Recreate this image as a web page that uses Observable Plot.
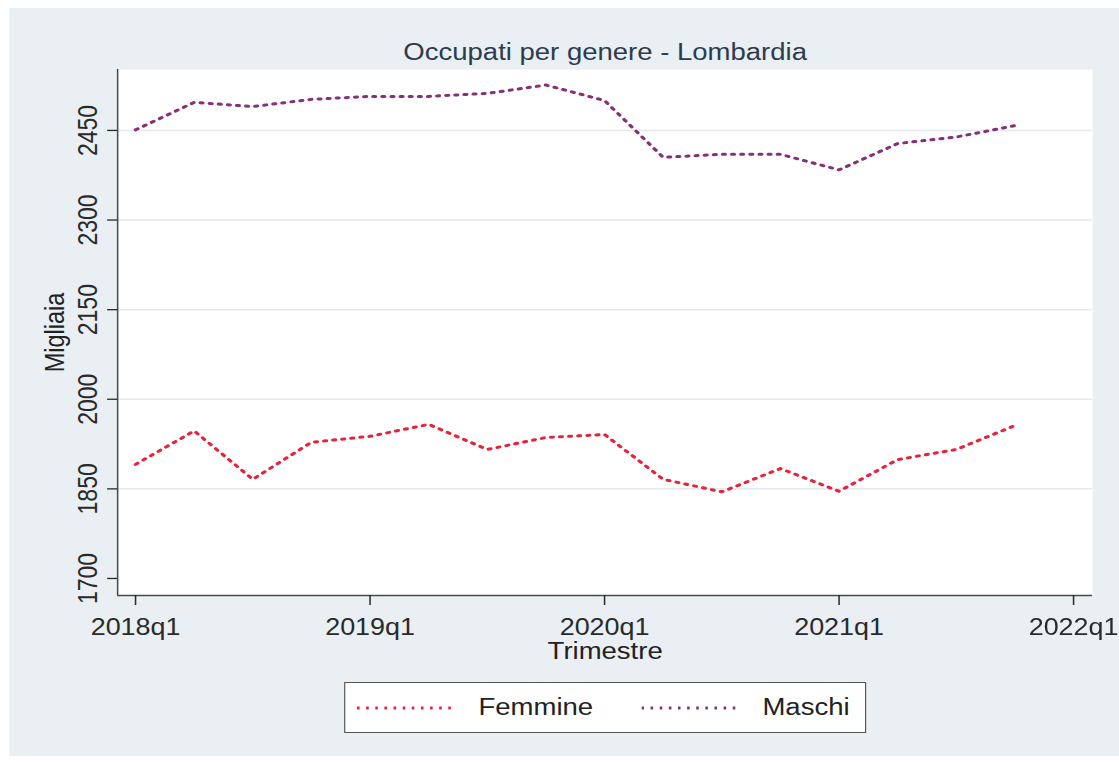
<!DOCTYPE html>
<html>
<head>
<meta charset="utf-8">
<script src="https://cdn.jsdelivr.net/npm/d3@7"></script>
<script src="https://cdn.jsdelivr.net/npm/@observablehq/plot@0.6"></script>
<style>
  html, body { margin: 0; padding: 0; background: #ffffff; }
  #wrap { position: absolute; left: 0; top: 0; width: 956px; height: 762px;
          transform: scaleX(1.1705); transform-origin: 0 0;
          font-family: "Liberation Sans", Arial, Helvetica, sans-serif; }
  #bg { position: absolute; left: 7.7px; top: 8px; width: 948.3px; height: 748px; background: #e9eff2; }
  #chart { position: absolute; left: 0; top: 0; }
  #legend { position: absolute; left: 294px; top: 682px; width: 446px; height: 51px;
            box-sizing: border-box; border: 1.5px solid #555; background: #fff; }
  .li { position: absolute; top: 0; height: 100%; display: flex; align-items: center; }
  .lt { font-size: 23.5px; color: #222; white-space: nowrap; }
</style>
</head>
<body>
<div id="wrap">
  <div id="bg"></div>
  <div id="chart"></div>
  <div id="legend"></div>
</div>
<script>
// ---- data ----
const quarters = ["2018q1","2018q2","2018q3","2018q4","2019q1","2019q2","2019q3","2019q4",
                  "2020q1","2020q2","2020q3","2020q4","2021q1","2021q2","2021q3","2021q4"];
const femmine = [1891, 1947, 1866, 1928, 1938, 1958, 1916, 1936, 1941, 1866, 1845, 1884, 1846, 1899, 1916, 1956];
const maschi  = [2451, 2497, 2490, 2502, 2507, 2507, 2512, 2526, 2500, 2405, 2410, 2410, 2384, 2428, 2439, 2458];
const seriesNames = ["Femmine", "Maschi"];
const seriesColors = ["#e5243b", "#86307a"];
const xTicks = [2018, 2019, 2020, 2021, 2022];
const xTickLabels = ["2018q1", "2019q1", "2020q1", "2021q1", "2022q1"];
const yTicks = [1700, 1850, 2000, 2150, 2300, 2450];
const gridTicks = [1850, 2000, 2150, 2300, 2450];
const titleText = "Occupati per genere - Lombardia";
const xTitle = "Trimestre";
const yTitle = "Migliaia";

// ---- build table ----
const toTime = q => +q.slice(0, 4) + (+q.slice(5) - 1) / 4;
const rows = quarters.flatMap((q, i) => [
  {t: toTime(q), v: femmine[i], s: seriesNames[0]},
  {t: toTime(q), v: maschi[i], s: seriesNames[1]}
]);

const xDomain = [2017.9236, 2022.0814];
const yDomain = [1671.5, 2552];
const dash = "2.2 5.6";
const fontFamily = "Liberation Sans, Arial, Helvetica, sans-serif";

const chart = Plot.plot({
  width: 956,
  height: 762,
  marginLeft: 100,
  marginRight: 23,
  marginTop: 69,
  marginBottom: 167,
  style: {background: "transparent", fontFamily, overflow: "visible"},
  x: {domain: xDomain},
  y: {domain: yDomain},
  color: {domain: seriesNames, range: seriesColors},
  marks: [
    Plot.frame({fill: "white", stroke: "none"}),
    Plot.ruleY(gridTicks, {stroke: "#e3e9ec", strokeWidth: 1.5}),
    Plot.lineY(rows, {x: "t", y: "v", stroke: "s", strokeWidth: 3, strokeDasharray: dash}),
    Plot.ruleX([xDomain[0]], {stroke: "#4a4a4a", strokeWidth: 1.3}),
    Plot.ruleY([yDomain[0]], {stroke: "#4a4a4a", strokeWidth: 1.3}),
    Plot.axisX(xTicks, {
      tickSize: 10, tickPadding: 12.7, fontSize: 23, color: "#2a2a2a", strokeWidth: 1.3,
      tickFormat: d => xTickLabels[xTicks.indexOf(d)], label: null
    }),
    Plot.axisY(yTicks, {
      tickSize: 8.5, tickFormat: () => "", color: "#2a2a2a", strokeWidth: 1.3, label: null
    }),
    Plot.text(yTicks, {
      y: d => d, text: d => String(d), frameAnchor: "left", dx: -17.6, rotate: -90,
      textAnchor: "middle", lineAnchor: "bottom", fontSize: 23, fill: "#2a2a2a"
    }),
    Plot.text([yTitle], {
      text: d => d, frameAnchor: "left", dx: -46.2, rotate: -90,
      textAnchor: "middle", lineAnchor: "bottom", fontSize: 23.5, fill: "#222"
    }),
    Plot.text([xTitle], {
      text: d => d, frameAnchor: "bottom", dy: 63, lineAnchor: "bottom",
      fontSize: 23.5, fill: "#222"
    }),
    Plot.text([titleText], {
      text: d => d, frameAnchor: "top", dy: -10, lineAnchor: "bottom",
      fontSize: 23.5, fill: "#2e3b4e"
    })
  ]
});
document.getElementById("chart").appendChild(chart);

// ---- legend ----
const legend = document.getElementById("legend");
const legendLayout = [
  {line: 10.0, text: 113.8},
  {line: 252.6, text: 356.4}
];
seriesNames.forEach((name, i) => {
  const lineDiv = document.createElement("div");
  lineDiv.className = "li";
  lineDiv.style.left = legendLayout[i].line + "px";
  lineDiv.innerHTML = `<svg width="85.4" height="10"><line x1="0" y1="5" x2="85.4" y2="5" stroke="${seriesColors[i]}" stroke-width="3" stroke-dasharray="${dash}"/></svg>`;
  legend.appendChild(lineDiv);
  const textDiv = document.createElement("div");
  textDiv.className = "li lt";
  textDiv.style.left = legendLayout[i].text + "px";
  textDiv.textContent = name;
  legend.appendChild(textDiv);
});
</script>
</body>
</html>
